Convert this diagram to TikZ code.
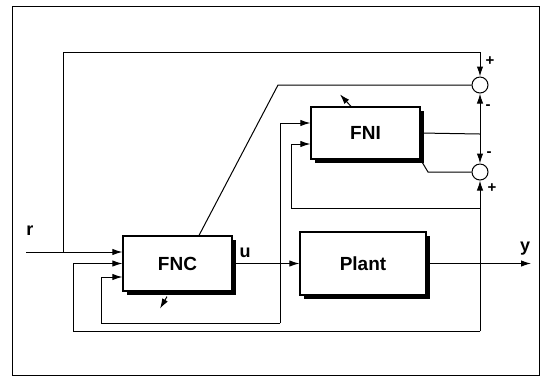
\documentclass[tikz,border=0pt]{standalone}
\usepackage{fontspec}
\setmainfont{Liberation Sans}
\usetikzlibrary{arrows.meta,shadows}

\begin{document}
\begin{tikzpicture}[
    x=0.5pt,y=-0.5pt,
    line width=0.5pt,
    block/.style={draw,fill=white,line width=0.6pt,font=\bfseries\fontsize{9.5}{10}\selectfont,
      drop shadow={shadow xshift=2pt,shadow yshift=-2pt,fill=black,opacity=1}},
    sumpt/.style={draw,circle,fill=white,minimum size=8pt,inner sep=0pt},
    lbl/.style={font=\bfseries\fontsize{9}{10}\selectfont,inner sep=0pt},
    sgn/.style={font=\bfseries\fontsize{7.5}{8}\selectfont,inner sep=0pt},
    >={Latex[length=5pt,width=3.2pt]}]
  \useasboundingbox (0,0) rectangle (546,377);
  \draw (12,6) rectangle (539,375);
  % blocks
  \node[block,minimum width=54.5pt,minimum height=27.5pt] (fnc) at (177.5,263.5) {FNC};
  \node[block,minimum width=54.5pt,minimum height=26pt] (fni) at (365.5,133) {FNI};
  \node[block,minimum width=63pt,minimum height=31.5pt] (plant) at (363,263.5) {Plant};
  \node[sumpt] (sumtop) at (480,85) {};
  \node[sumpt] (sumbot) at (480,172) {};
  % labels
  \node[lbl] (rlab) at (30,231) {r};
  \node[lbl] (ulab) at (245,253) {u};
  \node[lbl] (ylab) at (525,249) {y};
  \node[sgn] (s1) at (490,61) {+};
  \node[sgn] (s2) at (488,107) {-};
  \node[sgn] (s3) at (489,154) {-};
  \node[sgn] (s4) at (492,188) {+};
  % branch points
  \coordinate (rin) at (26,252);
  \coordinate (rtap) at (63,252);
  \coordinate (tl) at (63,52);
  \coordinate (slant) at (278,85);
  \coordinate (fniout) at (480,134);
  \coordinate (ufb) at (280,323);
  \coordinate (ybot) at (480,331);
  \coordinate (ytap) at (480,208);
  \coordinate (yout) at (531,263.5);
  % signals
  \draw[->] (rin) -- ([yshift=5.75pt]fnc.west);
  \draw[->] (rtap) -- (tl) -| (sumtop.north);
  \draw ([xshift=10.75pt]fnc.north) -- (slant) -- (sumtop.west);
  \draw (fni.east) -- (fniout);
  \draw[->] (fniout) -- (sumtop.south);
  \draw[->] (fniout) -- (sumbot.north);
  \draw (fni.south east) -- (428,172) -- (sumbot.west);
  \draw[->] (fnc.east) -- (plant.west);
  \draw[->] (plant.east) -- (yout);
  \draw[->] (ufb) |- ([yshift=5pt]fni.west);
  \draw[->] (ufb) -- (101,323) |- ([yshift=-6.75pt]fnc.west);
  \draw[->] (ybot) -- (sumbot.south);
  \draw[->] (ybot) -- (73,331) |- (fnc.west);
  \draw[->] (ytap) -- (291,208) |- ([yshift=-5.5pt]fni.west);
  % adaptation arrows
  \draw[->] ([xshift=-7.25pt]fni.north) -- ++(-11,-12);
  \draw[->] ([xshift=-5.25pt,yshift=-2.5pt]fnc.south) -- ++(-7,12);
\end{tikzpicture}
\end{document}
